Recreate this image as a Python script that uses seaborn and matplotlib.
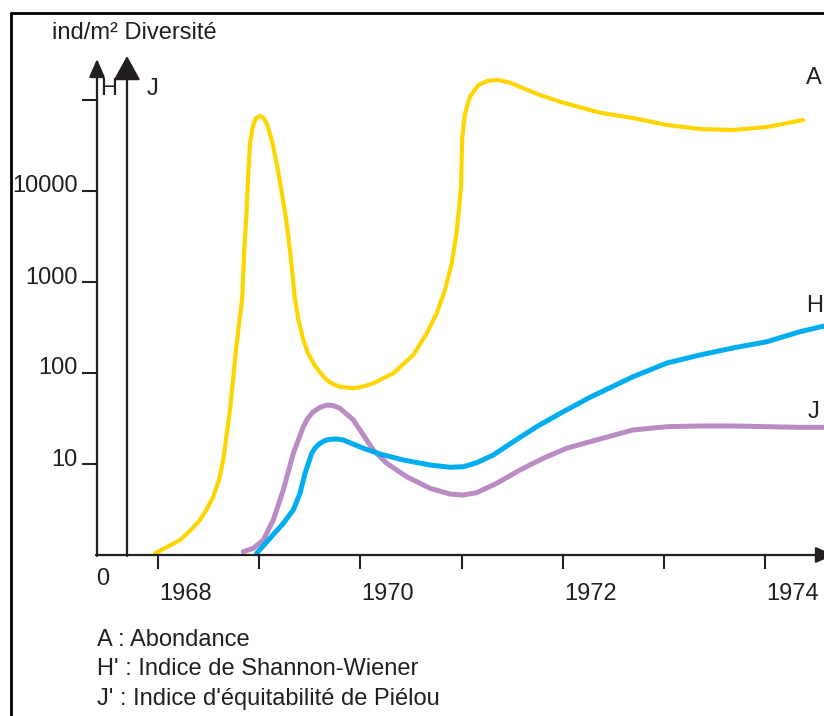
import numpy as np
import pandas as pd
import matplotlib
matplotlib.use("Agg")
import matplotlib.pyplot as plt
import matplotlib.transforms as mtransforms
from matplotlib.lines import Line2D
from matplotlib.patches import FancyArrowPatch
import seaborn as sns

# ---------------- data ----------------
# Abondance A (ind/m², log scale)
years_A = [1967.970, 1968.217, 1968.316, 1968.415, 1968.481, 1968.546, 1968.603, 1968.645,
           1968.711, 1968.778, 1968.833, 1968.853, 1968.876, 1968.892, 1968.909, 1968.936,
           1968.968, 1969.008, 1969.047, 1969.080, 1969.124, 1969.173, 1969.222, 1969.272,
           1969.311, 1969.351, 1969.388, 1969.436, 1969.482, 1969.535, 1969.601, 1969.667,
           1969.729, 1969.798, 1969.930, 1970.026, 1970.127, 1970.325, 1970.523, 1970.655,
           1970.754, 1970.836, 1970.902, 1970.945, 1970.974, 1970.994, 1971.001, 1971.007,
           1971.034, 1971.083, 1971.165, 1971.264, 1971.363, 1971.478, 1971.610, 1971.775,
           1971.972, 1972.170, 1972.368, 1972.694, 1973.030, 1973.356, 1973.682, 1974.018,
           1974.374]
abondance = [1.04, 1.46, 1.84, 2.42, 3.18, 4.37, 6.67, 11.1,
             39.2, 212, 684, 2246, 6183, 15650, 33440, 50890,
             62930, 66710, 62930, 53130, 36340, 20160, 9750, 4418,
             1897, 689, 382, 230, 166, 128, 101, 83.8,
             75.7, 70.7, 67.9, 71.1, 77.1, 99.2, 158, 273,
             453, 817, 1605, 3147, 6183, 11150, 21910, 39530,
             71420, 108700, 146200, 163000, 165900, 154900, 134500, 113400,
             95800, 83100, 72530, 63410, 53130, 48000, 46800, 50500,
             60300]

# Indice de Shannon-Wiener H' (diversity axis, arbitrary units)
years_H = [1968.975, 1969.107, 1969.238, 1969.337, 1969.403, 1969.453, 1969.519, 1969.556,
           1969.601, 1969.650, 1969.700, 1969.764, 1969.831, 1970.029, 1970.194, 1970.424,
           1970.688, 1970.885, 1971.017, 1971.149, 1971.313, 1971.511, 1971.742, 1972.005,
           1972.269, 1972.694, 1973.030, 1973.356, 1973.682, 1974.018, 1974.344, 1974.581]
shannon = [0.019, 0.184, 0.348, 0.495, 0.678, 0.898, 1.118, 1.181,
           1.227, 1.258, 1.271, 1.275, 1.264, 1.173, 1.110, 1.044,
           0.989, 0.964, 0.970, 1.014, 1.099, 1.245, 1.410, 1.575,
           1.733, 1.959, 2.110, 2.198, 2.275, 2.344, 2.454, 2.516]

# Indice d'équitabilité de Piélou J'
years_J = [1968.843, 1968.942, 1969.041, 1969.139, 1969.238, 1969.337, 1969.436, 1969.482,
           1969.535, 1969.601, 1969.667, 1969.729, 1969.798, 1969.930, 1970.029, 1970.127,
           1970.260, 1970.458, 1970.688, 1970.885, 1971.017, 1971.149, 1971.347, 1971.577,
           1971.807, 1972.038, 1972.269, 1972.694, 1973.030, 1973.356, 1973.682, 1974.018,
           1974.344, 1974.581]
pielou = [0.036, 0.074, 0.165, 0.385, 0.714, 1.118, 1.410, 1.505,
          1.575, 1.621, 1.648, 1.643, 1.612, 1.484, 1.319, 1.154,
          1.008, 0.860, 0.733, 0.670, 0.659, 0.685, 0.788, 0.934,
          1.063, 1.173, 1.245, 1.374, 1.410, 1.418, 1.418, 1.410,
          1.403, 1.403]

x_ticks = [1968, 1969, 1970, 1971, 1972, 1973, 1974]
x_labels = ["1968", "", "1970", "", "1972", "", "1974"]
y_ticks = [10, 100, 1000, 10000, 100000]
y_labels = ["10", "100", "1000", "10000", ""]
legend_lines = ["A : Abondance",
                "H' : Indice de Shannon-Wiener",
                "J' : Indice d'équitabilité de Piélou"]

# ---------------- style ----------------
sns.set_theme(style="white")
plt.rcParams["font.family"] = ["Liberation Sans", "DejaVu Sans"]
INK = "#231f20"
YELLOW = "#ffd500"
BLUE = "#00aeef"
PURPLE = "#b98cc3"
FS = 17

W, H = 824, 716
fig = plt.figure(figsize=(W / 100, H / 100), dpi=100)
fig.patch.set_facecolor("white")

def P(x, y):
    return (x / W, 1 - y / H)

# axes geometry (pixels)
AX_L, AX_R, AX_B, AX_T = 97, 824, 555, 57
ax = fig.add_axes([AX_L / W, 1 - AX_B / H, (AX_R - AX_L) / W, (AX_B - AX_T) / H])
ax.set_facecolor("none")

px_per_year = 101.2
x0 = 1968 - (158 - AX_L) / px_per_year
x1 = 1968 + (AX_R - 158) / px_per_year
decades = (AX_B - AX_T) / 91.0

dfA = pd.DataFrame({"annee": years_A, "A": abondance})
sns.lineplot(data=dfA, x="annee", y="A", ax=ax, color=YELLOW, linewidth=3.0,
             sort=False, estimator=None, solid_capstyle="round", solid_joinstyle="round")
ax.set_yscale("log")
ax.set_xlim(x0, x1)
ax.set_ylim(1, 10 ** decades)

ax2 = ax.twinx()
ax2.set_facecolor("none")
dfH = pd.DataFrame({"annee": years_H, "H": shannon})
dfJ = pd.DataFrame({"annee": years_J, "J": pielou})
sns.lineplot(data=dfJ, x="annee", y="J", ax=ax2, color=PURPLE, linewidth=3.6,
             sort=False, estimator=None, solid_capstyle="round", solid_joinstyle="round")
sns.lineplot(data=dfH, x="annee", y="H", ax=ax2, color=BLUE, linewidth=3.6,
             sort=False, estimator=None, solid_capstyle="round", solid_joinstyle="round")
ax2.set_ylim(0, decades)
ax2.set_xlim(x0, x1)
ax2.set_yticks([])
ax2.set_ylabel("")
for s in ax2.spines.values():
    s.set_visible(False)

for s in ax.spines.values():
    s.set_visible(False)
ax.set_xlabel("")
ax.set_ylabel("")
ax.set_xticks(x_ticks)
ax.set_xticklabels(x_labels)
ax.set_yticks(y_ticks)
ax.set_yticklabels(y_labels)
ax.minorticks_off()
ax.yaxis.set_minor_locator(matplotlib.ticker.NullLocator())
ax.tick_params(axis="x", direction="out", length=10, width=1.5, color=INK,
               labelsize=FS, labelcolor=INK, pad=10.5, bottom=True)
ax.tick_params(axis="y", direction="out", length=10.5, width=1.5, color=INK,
               labelsize=FS, labelcolor=INK, pad=3.5, left=True)
for lab in ax.get_xticklabels():
    lab.set_horizontalalignment("left")
    lab.set_transform(lab.get_transform() +
                      mtransforms.ScaledTranslation(1 / 100, 0, fig.dpi_scale_trans))
for lab in ax.get_yticklabels():
    lab.set_transform(lab.get_transform() +
                      mtransforms.ScaledTranslation(0, 7 / 100, fig.dpi_scale_trans))

# axes lines with arrows
def arrow(p0, p1, hl, hw, lw=1.6):
    a = FancyArrowPatch(P(*p0), P(*p1), transform=fig.transFigure,
                        arrowstyle=f"-|>,head_length={hl},head_width={hw}",
                        mutation_scale=1, shrinkA=0, shrinkB=0,
                        color=INK, lw=lw, clip_on=False)
    fig.add_artist(a)

arrow((97, 556), (97, 59), 11, 4.8)        # H / abundance axis
arrow((127, 556), (127, 56), 15, 8.3)      # J axis
arrow((96, 555), (834, 555), 11, 4.8)      # time axis (tip cut by the edge)

# frame lines
fig.add_artist(Line2D([11 / W, 11 / W], [0, 1 - 13 / H], transform=fig.transFigure,
                      color="black", lw=2))
fig.add_artist(Line2D([11 / W, 1], [1 - 13 / H, 1 - 13 / H], transform=fig.transFigure,
                      color="black", lw=2))

# texts
fig.text(*P(52, 33), "ind/m² Diversité", fontsize=FS, color=INK, ha="left", va="center")
fig.text(*P(100, 89), "H", fontsize=FS, color=INK, ha="left", va="center")
fig.text(*P(147, 89), "J", fontsize=FS, color=INK, ha="left", va="center")
fig.text(*P(103, 579), "0", fontsize=FS, color=INK, ha="center", va="center")
fig.text(*P(806, 78), "A", fontsize=FS, color=INK, ha="left", va="center")
fig.text(*P(806, 306), "H", fontsize=FS, color=INK, ha="left", va="center")
fig.text(*P(808, 412), "J", fontsize=FS, color=INK, ha="left", va="center")
for i, line in enumerate(legend_lines):
    fig.text(*P(97, 639.5 + 29.5 * i), line, fontsize=FS, color=INK, ha="left", va="center")

fig.savefig("out.png", dpi=100, facecolor="white")
